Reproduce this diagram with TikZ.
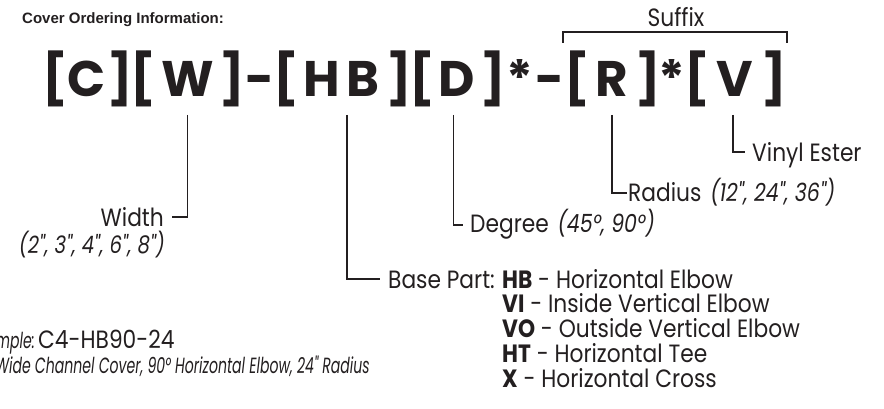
\documentclass[tikz,border=0pt]{standalone}
\usepackage{fontspec}
\setmainfont{Poppins}
\newfontfamily\labelfont[FakeStretch=0.87]{Poppins}
\newfontfamily\condit[FakeStretch=0.82]{Poppins Italic}
\newfontfamily\condnarrow[FakeStretch=0.64]{Poppins Italic}
\newfontfamily\headfont{Liberation Sans}
\usetikzlibrary{calc}
\definecolor{ink}{HTML}{231F20}

\begin{document}
\begin{tikzpicture}[x=1pt, y=-1pt,
  glyph/.style={inner sep=0pt, anchor=base, text=ink, font=\bfseries\fontsize{50}{50}\selectfont},
  lbl/.style={inner sep=0pt, text=ink, font=\labelfont\fontsize{25}{25}\selectfont},
  sizes/.style={font=\condit\fontsize{24}{24}\selectfont},
  note/.style={font=\condnarrow\fontsize{22}{22}\selectfont},
  lead/.style={draw=ink, line width=1.7pt}
]
\clip (0,0) rectangle (884,409);

\node[inner sep=0pt, anchor=base west, text=ink, font=\headfont\bfseries\fontsize{15}{15}\selectfont] (title) at (22,24) {Cover Ordering Information:};

% part number, one glyph at a time
\foreach \x/\ch/\nm in {55/{[}/bc1, 86.5/C/c, 120/{]}/bc2, 143/{[}/bw1, 187.5/W/w, 232/{]}/bw2,
    260/-/dash1, 286/{[}/bh1, 322/H/h, 362.5/B/b, 399/{]}/bh2, 422.5/{[}/bd1, 456.5/D/d, 493/{]}/bd2,
    520/*/star1, 550/-/dash2, 577.5/{[}/br1, 612/R/r, 648/{]}/br2, 671.5/*/star2, 697.5/{[}/bv1,
    734.5/V/v, 774/{]}/bv2}
  \node[glyph] (\nm) at (\x,97) {\ch};

% suffix bracket
\node[lbl, anchor=base] (suffix) at (676,27) {Suffix};
\coordinate (sfxl) at (563,43);
\coordinate (sfxr) at (787,43);
\draw[lead] (sfxl) |- ([shift={(0,5)}]suffix.base) -| (sfxr);

% labels
\node[lbl, anchor=base east] (width) at (164,226) {Width};
\node[lbl, sizes, anchor=base east] (widths) at (165,253) {(2", 3", 4", 6", 8")};
\node[lbl, anchor=base west] (degree) at (470,232) {Degree\hspace{3pt} {\condit (45°, 90°)}};
\node[lbl, anchor=base west] (radius) at (628,201) {Radius\hspace{3pt} {\condit (12", 24", 36")}};
\node[lbl, anchor=base west] (vinyl) at (752,161) {Vinyl Ester};
\node[lbl, anchor=base west] (base) at (388,288) {Base Part:};
\foreach \code/\desc [count=\i] in {HB/Horizontal Elbow, VI/Inside Vertical Elbow,
    VO/Outside Vertical Elbow, HT/Horizontal Tee, X/Horizontal Cross}
  \node[lbl, anchor=base west] (part\i) at (502,{288+24.75*(\i-1)}) {\textbf{\code} - \desc};

\node[lbl, note, anchor=base east] (example) at (35,348) {Example:};
\node[lbl, anchor=base west] (excode) at (38,348) {C4-HB90-24};
\node[lbl, note, anchor=base east] (exdesc) at (370,373) {Wide Channel Cover, 90° Horizontal Elbow, 24" Radius};

% leaders
\draw[lead] ([shift={(0,18)}]w.base) |- ([shift={(8,-9)}]width.base east);
\draw[lead] ($(h.base)!0.5!(b.base)+(5,18)$) |- ([shift={(-8,-9)}]base.base west);
\draw[lead] ([shift={(-3,18)}]d.base) |- ([shift={(-7,-7)}]degree.base west);
\draw[lead] ([shift={(0,18)}]r.base) |- ([shift={(-1,-8)}]radius.base west);
\draw[lead] ([shift={(-1.5,18)}]v.base) |- ([shift={(-7,-9)}]vinyl.base west);
\end{tikzpicture}
\end{document}
